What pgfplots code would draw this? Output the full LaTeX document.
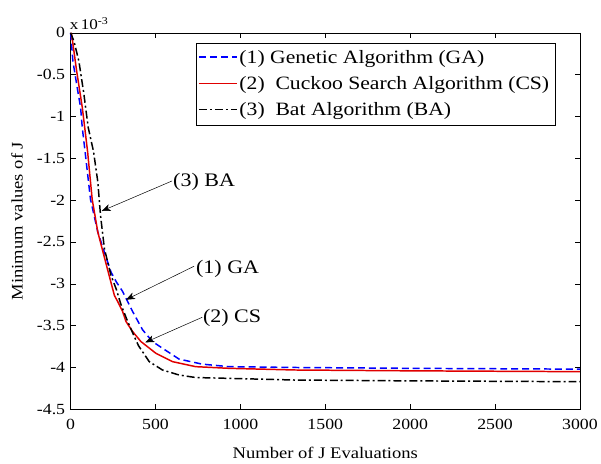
\documentclass[border=0pt]{standalone}
\usepackage{pgfplots}
\pgfplotsset{compat=1.18}
\usetikzlibrary{arrows.meta}
\usepackage{fontspec}
\setmainfont[FakeStretch=1.15]{Liberation Serif}
\newcommand{\legline}[1]{\tikz[baseline=-0.33em]{\draw[#1] (0bp,0bp) -- (38bp,0bp);}}
\begin{document}
\begin{tikzpicture}
\begin{axis}[
  scale only axis, width=512bp, height=378.5bp,
  xmin=0, xmax=3000, ymin=-4.5, ymax=0,
  xtick={0,500,...,3000},
  ytick={-4.5,-4,...,0},
  scaled x ticks=false,
  /pgf/number format/assume math mode=true,
  /pgf/number format/1000 sep={},
  xticklabel style={font=\fontsize{15.6}{18}\selectfont, yshift=-6bp},
  yticklabel style={font=\fontsize{15.6}{18}\selectfont, xshift=-2bp},
  xlabel={Number of J Evaluations},
  ylabel={Minimum values of J},
  xlabel style={font=\fontsize{16.3}{19}\selectfont, at={(axis description cs:0.5,-0.117)}, anchor=center},
  ylabel style={font=\fontsize{16.3}{19}\selectfont, at={(axis description cs:-0.1055,0.5)}, anchor=center},
  tick align=inside,
  major tick length=5bp,
  axis line style={line width=0.6pt},
  tick style={line width=0.5pt, black},
  clip=false,
]
\addplot[color=blue, line width=1.5pt, dash pattern=on 7bp off 4bp] coordinates {
(0,0) (13.5,-0.34) (45,-0.73) (58.6,-0.89) (68.5,-1.13) (84,-1.40) (117,-1.99)
(160,-2.38) (200,-2.63) (238,-2.86) (270,-2.98) (306,-3.09) (365,-3.33) (424,-3.55)
(482,-3.69) (541,-3.77) (639,-3.90) (775,-3.96) (932,-3.99) (1322,-4.0) (2000,-4.01)
(3000,-4.02)};
\addplot[color=red!88!black, line width=1.5pt] coordinates {
(0,0) (6,-0.02) (35,-0.45) (68.6,-0.89) (100,-1.42) (127,-1.99) (160,-2.38)
(219,-2.84) (258,-3.14) (277,-3.21) (306,-3.33) (326,-3.45) (365,-3.57) (414,-3.69)
(502,-3.83) (600,-3.93) (736,-3.99) (932,-4.01) (1322,-4.03) (2000,-4.04) (3000,-4.05)};
\addplot[color=black, line width=1.5pt, dash pattern=on 8bp off 3bp on 2bp off 3bp] coordinates {
(0,0) (19.5,-0.1) (48.8,-0.34) (78,-0.73) (103.5,-1.13) (135,-1.42) (160,-1.78)
(176,-2.18) (199,-2.58) (238,-2.9) (268,-3.06) (297,-3.25) (336,-3.45) (375,-3.63)
(400,-3.74) (463,-3.93) (541,-4.03) (639,-4.09) (736,-4.12) (932,-4.13) (1322,-4.15)
(2000,-4.16) (3000,-4.17)};
% legend
\node[anchor=north west, draw=black, line width=0.6pt, fill=white, inner sep=2bp,
      font=\fontsize{19}{22}\selectfont]
  at (rel axis cs:0.246,0.9736) {%
  \renewcommand{\arraystretch}{1.2}%
  \begin{tabular}{@{}l@{\hspace{2bp}}l@{\hspace{4bp}}}
  \legline{blue, line width=1.5pt, dash pattern=on 7bp off 4bp} & (1) Genetic Algorithm (GA)\\
  \legline{red!88!black, line width=1.5pt, solid} & (2)\ \ Cuckoo Search Algorithm (CS)\\
  \legline{black, line width=1.5pt, dash pattern=on 8bp off 3bp on 2bp off 3bp} & (3)\ \ Bat Algorithm (BA)
  \end{tabular}};
% annotations
\draw[-{Stealth[length=9bp,width=7bp,inset=2.5bp]}, line width=0.5pt] (axis cs:598,-1.77) -- (axis cs:183,-2.13);
\node[anchor=west, inner sep=0pt, font=\fontsize{19.3}{22}\selectfont] at (axis cs:603,-1.78) {(3) BA};
\draw[-{Stealth[length=9bp,width=7bp,inset=2.5bp]}, line width=0.5pt] (axis cs:727,-2.79) -- (axis cs:326,-3.19);
\node[anchor=west, inner sep=0pt, font=\fontsize{19.3}{22}\selectfont] at (axis cs:738,-2.82) {(1) GA};
\draw[-{Stealth[length=9bp,width=7bp,inset=2.5bp]}, line width=0.5pt] (axis cs:775,-3.40) -- (axis cs:440,-3.70);
\node[anchor=west, inner sep=0pt, font=\fontsize{19.3}{22}\selectfont] at (axis cs:779,-3.41) {(2) CS};
\node[anchor=south west, inner sep=0pt, font=\fontsize{15}{17}\selectfont] at ([xshift=-1bp,yshift=3bp]rel axis cs:0,1) {x\,10\textsuperscript{-3}};
\coordinate (bl) at ([shift={(-71bp,-54.5bp)}]rel axis cs:0,0);
\coordinate (tr) at ([shift={(18bp,33bp)}]rel axis cs:1,1);
\end{axis}
\path (bl) rectangle (tr);
\end{tikzpicture}
\end{document}
